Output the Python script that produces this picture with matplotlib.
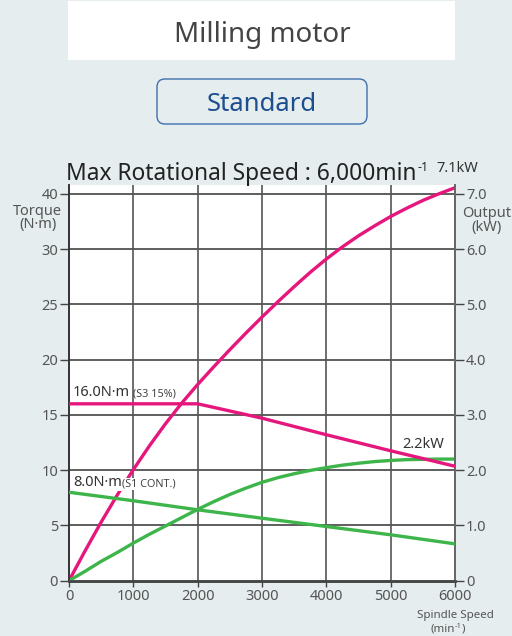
import numpy as np
import matplotlib
matplotlib.use("Agg")
import matplotlib.pyplot as plt
from matplotlib.patches import FancyBboxPatch, Rectangle

plt.rcParams['font.family'] = ['Noto Sans', 'DejaVu Sans']

# data
speed = [0, 250, 500, 750, 1000, 1250, 1500, 1750, 2000, 2250, 2500, 2750, 3000,
         3250, 3500, 3750, 4000, 4250, 4500, 4750, 5000, 5250, 5500, 5750, 6000]
s3_output = [0, 0.54, 1.06, 1.55, 2.01, 2.44, 2.84, 3.21, 3.55, 3.87, 4.18, 4.48, 4.77,
             5.05, 5.32, 5.58, 5.82, 6.04, 6.24, 6.42, 6.59, 6.74, 6.88, 7.0, 7.11]
s1_output = [0, 0.17, 0.35, 0.51, 0.68, 0.84, 0.99, 1.14, 1.29, 1.43, 1.56, 1.675, 1.78,
             1.865, 1.935, 1.995, 2.045, 2.09, 2.125, 2.155, 2.175, 2.19, 2.195, 2.2, 2.2]

torque_speed = [0, 1000, 2000, 3000, 4000, 5000, 6000]
s3_torque = [16.0, 16.0, 16.0, 14.7, 13.2, 11.75, 10.35]
s1_torque = [8.0, 7.23, 6.41, 5.65, 4.9, 4.15, 3.33]

x_ticks = [0, 1000, 2000, 3000, 4000, 5000, 6000]
torque_ticks = [0, 5, 10, 15, 20, 25, 30, 35]
torque_labels = ['0', '5', '10', '15', '20', '25', '30', '40']
output_ticks = [0, 1, 2, 3, 4, 5, 6, 7]
output_labels = ['0', '1.0', '2.0', '3.0', '4.0', '5.0', '6.0', '7.0']

bg = '#e5edef'
magenta = '#e6177c'
green = '#3db54a'
grey_txt = '#555555'

fig = plt.figure(figsize=(5.12, 6.36), dpi=100, facecolor=bg)

# header boxes
fig.patches.append(Rectangle((0.1328, 0.906), 0.756, 0.092, transform=fig.transFigure,
                             facecolor='white', edgecolor='none'))
fig.text(0.512, 0.9344, 'Milling motor', ha='center', va='baseline',
         fontsize=20, color='#444444')
fig.patches.append(FancyBboxPatch((1.57, 5.12), 2.10, 0.45, transform=fig.dpi_scale_trans,
                                  boxstyle='round,pad=0,rounding_size=0.08',
                                  facecolor='none', edgecolor='#3f6fae', linewidth=1.0))
fig.text(0.512, 0.8255, 'Standard', ha='center', va='baseline',
         fontsize=18.5, color='#1d4f8f')

# ax2 (output) is the bottom layer with the white plot area and the grid,
# ax (torque) sits on top with a transparent patch
ax2 = fig.add_axes([0.1348, 0.0870, 0.7539, 0.6222])
ax2.set_facecolor('white')
ax = ax2.twinx()
ax.patch.set_visible(False)

ax2.set_xlim(0, 6000)
ax2.set_ylim(0, 7.16)
ax.set_ylim(0, 35.8)

for y in output_ticks[1:]:
    ax2.plot([0, 6000], [y, y], color='#333333', lw=1.1, zorder=1)
for x in x_ticks[1:]:
    ax2.axvline(x, color='#555555', lw=1.2, zorder=1)

ax2.plot(speed, s3_output, color=magenta, lw=2.4, zorder=3)
ax2.plot(speed, s1_output, color=green, lw=2.4, zorder=3)
ax.plot(torque_speed, s3_torque, color=magenta, lw=2.4, zorder=3)
ax.plot(torque_speed, s1_torque, color=green, lw=2.4, zorder=3)

ax2.set_xticks(x_ticks)
ax.set_yticks(torque_ticks)
ax.set_yticklabels(torque_labels)
ax2.set_yticks(output_ticks)
ax2.set_yticklabels(output_labels)
# torque on the left, output on the right
ax.yaxis.tick_left()
ax2.yaxis.tick_right()

for a in (ax, ax2):
    a.spines['top'].set_visible(False)
    a.spines['left'].set_color('#333333')
    a.spines['right'].set_color('#666666')
    a.spines['bottom'].set_color('#444444')
    a.spines['bottom'].set_linewidth(1.8)
    a.spines['left'].set_linewidth(1.2)
    a.spines['right'].set_linewidth(1.2)
for a in (ax, ax2):
    a.tick_params(axis='y', length=6.5, width=1, color='#444444', labelsize=10.5,
                  labelcolor=grey_txt, pad=1.5)
ax2.tick_params(axis='x', length=4, width=1, color='#444444', labelsize=10.5,
                labelcolor=grey_txt, pad=2)

# axis captions
fig.text(0.074, 0.680, 'Torque\n(N·m)', ha='center', va='top', fontsize=10.5,
         color=grey_txt, linespacing=0.88)
fig.text(0.951, 0.676, 'Output\n(kW)', ha='center', va='top', fontsize=10.5,
         color=grey_txt, linespacing=0.88)
fig.text(0.889, 0.033, 'Spindle Speed', ha='center', va='center', fontsize=8.3,
         color=grey_txt)
t = fig.text(0.889, 0.011, '(min', ha='right', va='center', fontsize=8.3, color=grey_txt)
sup = ax.annotate('-1', xy=(1, 0.45), xycoords=t, va='bottom', fontsize=5.5,
                  color=grey_txt)
ax.annotate(')', xy=(1, 0), xycoords=t, va='bottom', fontsize=8.3, color=grey_txt,
            xytext=(4.5, 0), textcoords='offset points')

# subtitle
sub = fig.text(0.129, 0.717, 'Max Rotational Speed : 6,000min', ha='left', va='baseline',
               fontsize=16.4, color='#222222')
ax.annotate('-1', xy=(1, 0.5), xycoords=sub, va='bottom', fontsize=9, color='#222222',
            xytext=(0.5, 0), textcoords='offset points')

# annotations
ax2.text(6030, 7.32, '7.1kW', ha='center', va='bottom', fontsize=10.5, color='#333333')
ax2.text(5830, 2.33, '2.2kW', ha='right', va='bottom', fontsize=10.5, color='#333333')
t16 = ax.text(60, 16.3, '16.0N·m', ha='left', va='bottom', fontsize=10.5, color='#333333',
              zorder=4)
ax.annotate('(S3 15%)', xy=(1, 0), xycoords=t16, va='bottom', fontsize=7.8,
            color='#444444', xytext=(2, 0.5), textcoords='offset points')
t8 = ax.text(60, 8.2, '8.0N·m', ha='left', va='bottom', fontsize=10.5, color='#333333',
             zorder=5, bbox=dict(facecolor='white', edgecolor='none', pad=0.5))
ax.annotate('(S1 CONT.)', xy=(1, 0), xycoords=t8, va='bottom', fontsize=7.8,
            color='#444444', xytext=(0, 0.5), textcoords='offset points', zorder=5,
            bbox=dict(facecolor='white', edgecolor='none', pad=0.5))

fig.savefig('out.png', dpi=100, facecolor=bg)
